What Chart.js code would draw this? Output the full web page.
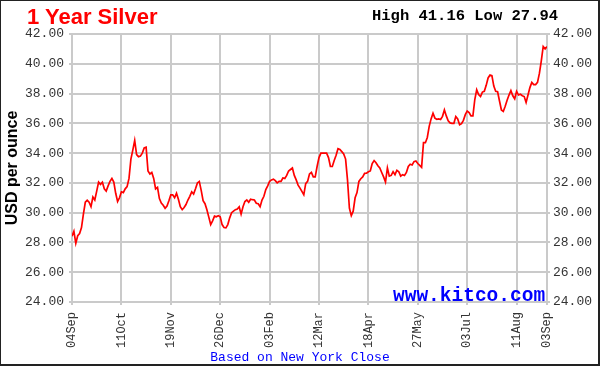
<!DOCTYPE html>
<html>
<head>
<meta charset="utf-8">
<script src="https://cdn.jsdelivr.net/npm/chart.js@4.4.1/dist/chart.umd.min.js"></script>
<style>
  html, body { margin: 0; padding: 0; background: #fff; }
  #wrap { position: relative; width: 600px; height: 366px; overflow: hidden; background: #fff; }
  #wrap canvas { position: absolute; left: 0; top: 0; }
  #frame { position: absolute; left: 0; top: 0; width: 600px; height: 366px; box-sizing: border-box; border: 1px solid #222; border-right-width: 2px; border-bottom-width: 2px; pointer-events: none; }
  .txt { position: absolute; white-space: nowrap; line-height: 1; }
  #title { left: 27px; top: 4px; font: bold 22px "Liberation Sans", Arial, sans-serif; color: #ff0000; }
  #hilo { left: 372px; top: 7px; font: bold 15.5px "Liberation Mono", monospace; color: #000; }
  #site { left: 393px; top: 285px; font: bold 19.5px "Liberation Mono", monospace; color: #0000ff; }
  #note { left: 0; width: 600px; text-align: center; top: 350px; font: 13px "Liberation Mono", monospace; color: #0000ff; }
</style>
</head>
<body>
<div id="wrap">
  <canvas id="myChart" width="600" height="366"></canvas>
  <div class="txt" id="title">1 Year Silver</div>
  <div class="txt" id="hilo">High 41.16 Low 27.94</div>
  <div class="txt" id="site">www.kitco.com</div>
  <div class="txt" id="note">Based on New York Close</div>
  <div id="frame"></div>
</div>
<script>
// trading-day index of each date label
var tickIdx = [0, 26, 52, 78, 104, 130, 156, 182, 208, 234, 250];
var tickLabels = ["04Sep", "11Oct", "19Nov", "26Dec", "03Feb", "12Mar", "18Apr", "27May", "03Jul", "11Aug", "03Sep"];

// daily close, USD per ounce
var prices = [
  28.42, 28.75, 27.94, 28.45, 28.6, 29.0, 29.9, 30.7, 30.83, 30.7,
  30.4, 31.05, 30.85, 31.45, 32.05, 31.9, 32.05, 31.6, 31.45, 31.8,
  32.1, 32.3, 32.05, 31.3, 30.75, 31.0, 31.4, 31.35, 31.6, 31.75,
  32.3, 33.6, 34.2, 34.85, 33.9, 33.76, 33.8, 34.0, 34.35, 34.4,
  32.8, 32.6, 32.7, 32.3, 31.6, 31.7, 30.95, 30.65, 30.5, 30.3,
  30.45, 30.8, 31.2, 31.2, 31.0, 31.3, 30.9, 30.4, 30.2, 30.35,
  30.55, 30.85, 31.1, 31.4, 31.25, 31.6, 32.0, 32.1, 31.5, 30.8,
  30.6, 30.2, 29.7, 29.2, 29.45, 29.77, 29.72, 29.8, 29.72, 29.2,
  29.0, 28.98, 29.2, 29.65, 30.0, 30.1, 30.2, 30.25, 30.4, 29.9,
  30.4, 30.75, 30.85, 30.7, 30.9, 30.87, 30.85, 30.63, 30.6, 30.4,
  30.85, 31.1, 31.55, 31.8, 32.1, 32.2, 32.25, 32.15, 32.0, 32.1,
  32.1, 32.33, 32.3, 32.5, 32.8, 32.9, 33.0, 32.5, 32.2, 31.85,
  31.65, 31.43, 31.2, 31.95, 32.1, 32.6, 32.7, 32.4, 32.4, 33.1,
  33.7, 34.0, 34.0, 34.0, 34.0, 33.7, 33.1, 33.1, 33.5, 33.85,
  34.3, 34.25, 34.1, 33.95, 33.6, 32.2, 30.3, 29.8, 30.1, 31.0,
  31.35, 32.1, 32.28, 32.4, 32.64, 32.65, 32.75, 32.8, 33.3, 33.5,
  33.35, 33.15, 33.0, 32.7, 32.4, 32.06, 33.0, 32.45, 32.5, 32.75,
  32.55, 32.85, 32.75, 32.45, 32.55, 32.5, 32.7, 33.1, 33.25, 33.2,
  33.43, 33.47, 33.3, 33.18, 33.05, 34.7, 34.7, 35.05, 35.8, 36.3,
  36.68, 36.35, 36.27, 36.3, 36.26, 36.47, 36.9, 36.5, 36.17, 36.03,
  36.0, 36.0, 36.45, 36.3, 35.9, 35.98, 36.2, 36.58, 36.83, 36.73,
  36.5, 36.5, 37.6, 38.25, 37.93, 37.8, 38.1, 38.15, 38.55, 39.05,
  39.25, 39.2, 38.5, 38.15, 38.12, 37.5, 36.9, 36.8, 37.15, 37.55,
  37.9, 38.2, 37.85, 37.65, 38.15, 37.9, 37.95, 37.85, 37.8, 37.4,
  37.9, 38.4, 38.75, 38.6, 38.6, 38.75, 39.35, 40.2, 41.16, 41.0, 41.15
];

var yMin = 24, yMax = 42, yStep = 2;

var gridColor = "#cacaca";
var tickFont = { family: "Liberation Mono", size: 13 };

new Chart("myChart", {
  type: "line",
  data: {
    datasets: [{
      data: prices.map(function (p, i) { return { x: i, y: p }; }),
      borderColor: "#ff0000",
      borderWidth: 1.7,
      pointRadius: 0,
      tension: 0
    }]
  },
  options: {
    responsive: false,
    animation: false,
    devicePixelRatio: 1,
    layout: { padding: { top: 34, left: 0, right: 0, bottom: 0 } },
    plugins: { legend: { display: false }, tooltip: { enabled: false } },
    scales: {
      x: {
        type: "linear",
        min: 0,
        max: tickIdx[tickIdx.length - 1],
        afterBuildTicks: function (s) { s.ticks = tickIdx.map(function (v) { return { value: v }; }); },
        afterFit: function (s) { s.height = 64; },
        grid: { color: gridColor, lineWidth: 2, tickLength: 3 },
        border: { display: false },
        ticks: {
          autoSkip: false,
          maxRotation: 90,
          minRotation: 90,
          padding: 7,
          color: "#333",
          font: { family: "Liberation Mono", size: 12 },
          callback: function (v) { return tickLabels[tickIdx.indexOf(v)]; }
        }
      },
      y: {
        position: "left",
        min: yMin,
        max: yMax,
        afterFit: function (s) { s.width = 72; },
        grid: { color: gridColor, lineWidth: 2, tickLength: 3 },
        border: { display: false },
        ticks: { stepSize: yStep, padding: 5, color: "#333", font: tickFont,
          callback: function (v) { return v.toFixed(2); } },
        title: { display: true, text: "USD per ounce", color: "#000",
          font: { family: "Liberation Sans", size: 16, weight: "bold" }, padding: { top: 3, bottom: 3 } }
      },
      y2: {
        position: "right",
        min: yMin,
        max: yMax,
        afterFit: function (s) { s.width = 53; },
        grid: { drawOnChartArea: false, color: gridColor, lineWidth: 2, tickLength: 3 },
        border: { display: false },
        ticks: { stepSize: yStep, padding: 3, color: "#333", font: tickFont,
          callback: function (v) { return v.toFixed(2); } }
      }
    }
  }
});
</script>
</body>
</html>
